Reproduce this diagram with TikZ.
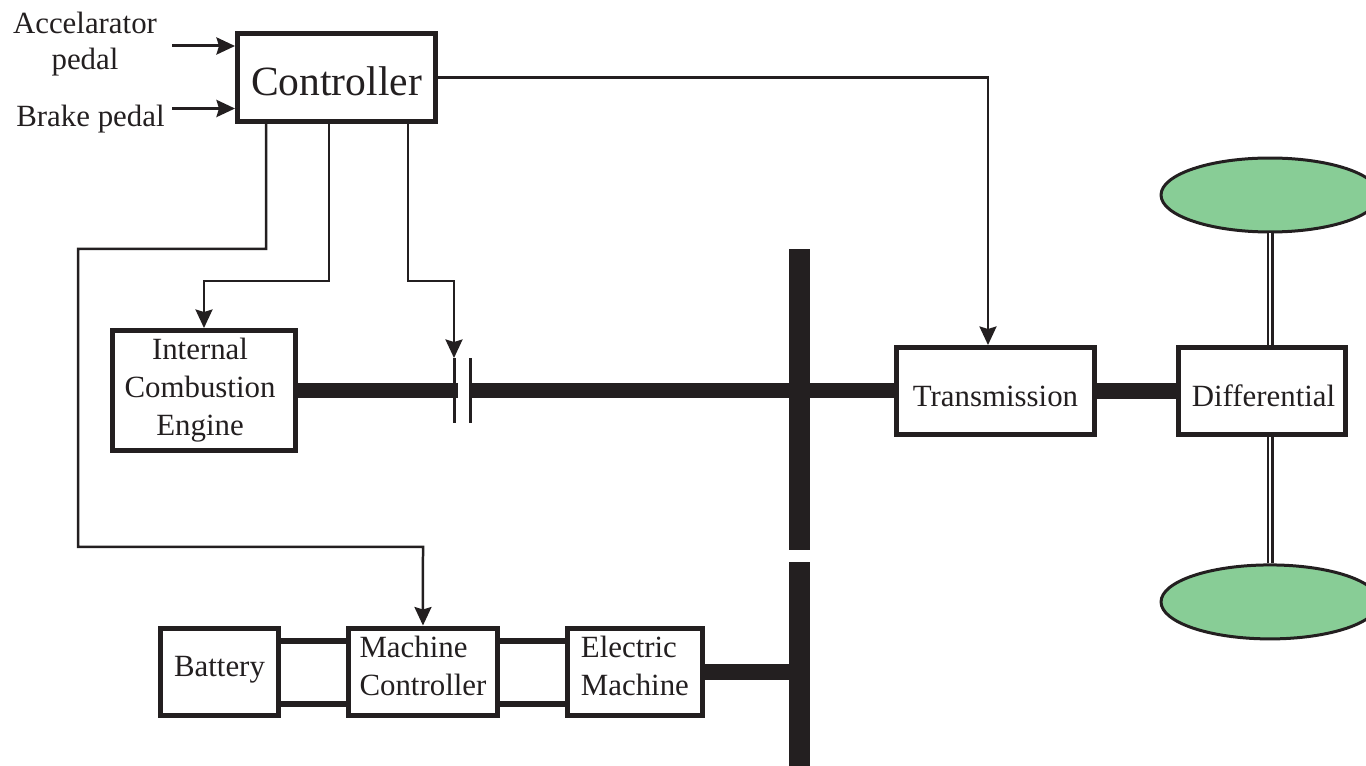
\documentclass[tikz,border=0pt]{standalone}
\usepackage{fontspec}
\setmainfont{Liberation Serif}
\usetikzlibrary{arrows.meta,positioning,shapes.geometric}
\definecolor{inkc}{HTML}{231F20}
\definecolor{wheelc}{HTML}{88CD96}
\tikzset{
    block/.style={draw=inkc,line width=0.1cm,fill=white,text=inkc,inner sep=0pt,align=center,
        font=\fontsize{17.57}{21.5}\selectfont},
    solid bar/.style={fill=inkc,inner sep=0pt,outer sep=0pt},
    wheel/.style={ellipse,draw=inkc,line width=0.06cm,fill=wheelc,inner sep=0pt,
        minimum width=4.36cm,minimum height=1.48cm},
    shaft/.style={draw=inkc,line width=0.31cm},
    link/.style={draw=inkc,line width=0.11cm},
    sig/.style={draw=inkc,line width=0.05cm},
    pedal/.style={draw=inkc,line width=0.06cm},
    axle/.style={draw=inkc,line width=0.045cm,double=white,double distance=0.05cm},
    caption/.style={text=inkc,inner sep=0pt,align=center,
        font=\fontsize{17.57}{20.5}\selectfont}
}
\begin{document}
\begin{tikzpicture}[
        x=0.02cm, y=-0.02cm,
        >={Stealth[length=0.37cm,width=0.34cm,inset=0.05cm]}
    ]
    \useasboundingbox (0,0) rectangle (1366,766);

%%
% Controller and the two pedal inputs
    \node (ctrl) [block,minimum width=3.96cm,minimum height=1.76cm,text height=0.74cm,
        font=\fontsize{23.66}{28}\selectfont] at (336.5,77.5) {Controller};
    \node (acc) [caption] at (85,44.5) {Accelarator\\pedal};
    \node (brk) [caption] at (90.5,119) {Brake pedal};
    \coordinate (accin) at (172,46);
    \coordinate (brkin) at (172,108.5);
    \draw[pedal,->] (accin) -- (accin -| ctrl.west);
    \draw[pedal,->] (brkin) -- (brkin -| ctrl.west);
%%
% Engine, clutch and the upper bar
    \node (ice) [block,minimum width=3.66cm,minimum height=2.4cm] at (204,390.5) {};
    \node (icetxt) [caption,font=\fontsize{17.57}{21.5}\selectfont] at (200,390)
        {Internal\\Combustion\\Engine};
    \node (cl1) [solid bar,minimum width=0.06cm,minimum height=1.3cm] at (454,390.5) {};
    \node (cl2) [solid bar,right=0.26cm of cl1,minimum width=0.06cm,minimum height=1.3cm] {};
    \node (bus1) [solid bar,minimum width=0.42cm,minimum height=6.02cm] at (799.5,399.5) {};
    \node (bus2) [solid bar,below=0.24cm of bus1,minimum width=0.42cm,minimum height=4.1cm] {};
%%
% Driveline out to the wheels
    \node (tr) [block,minimum width=3.96cm,minimum height=1.74cm,text height=0.64cm] at (995.5,391)
        {Transmission};
    \node (diff) [block,right=1.58cm of tr,minimum width=3.34cm,minimum height=1.74cm,text height=0.64cm]
        {\hspace{0.06cm}Differential};
    \node (wh1) [wheel] at (1270,195) {};
    \node (wh2) [wheel,below=6.6cm of wh1] {};
%%
% Electric path along the bottom
    \node (bat) [block,minimum width=2.36cm,minimum height=1.76cm,text depth=0.24cm] at (219.5,672)
        {Battery};
    \node (mc) [block,right=1.3cm of bat,minimum width=2.98cm,minimum height=1.76cm,
        align=left,text depth=0.24cm] {Machine\\Controller};
    \node (em) [block,right=1.3cm of mc,minimum width=2.7cm,minimum height=1.76cm,
        align=left,text depth=0.24cm] {Electric\\Machine};
%%
% Thick connections
    \draw[shaft,shorten >=-0.08cm] (ice.east) -- (cl1.center);
    \draw[shaft] (cl2.east) -- (cl2.east -| tr.west);
    \draw[shaft] (tr.east) -- (diff.west);
    \draw[shaft] (em.east) -- (em.east -| bus2.west);
    \coordinate (hi) at (0,641);
    \coordinate (lo) at (0,704);
    \draw[link] (bat.east |- hi) -- (mc.west |- hi);
    \draw[link] (bat.east |- lo) -- (mc.west |- lo);
    \draw[link] (mc.east |- hi) -- (em.west |- hi);
    \draw[link] (mc.east |- lo) -- (em.west |- lo);
    \draw[axle] (wh1.south) -- (wh1.south |- diff.north);
    \draw[axle] (wh2.north) -- (wh2.north |- diff.south);
%%
% Control lines leaving the controller
    \coordinate (out1) at (266,124);
    \coordinate (out2) at (329,124);
    \coordinate (out3) at (408,124);
    \coordinate (hop1) at (78,249);
    \coordinate (hop2) at (204,281);
    \coordinate (hop3) at (454,281);
    \coordinate (hop4) at (423,547);
    \coordinate (trtop) at (988,345);
    \draw[sig,->] (out1) |- (hop1) |- (hop4) -- (mc.north);
    \draw[sig,->] (out2) |- (hop2) -- (ice.north);
    \draw[sig,->] (out3) |- (hop3) -- (cl1.north);
    \draw[sig,->] (ctrl.east) -| (trtop);

\end{tikzpicture}
\end{document}
